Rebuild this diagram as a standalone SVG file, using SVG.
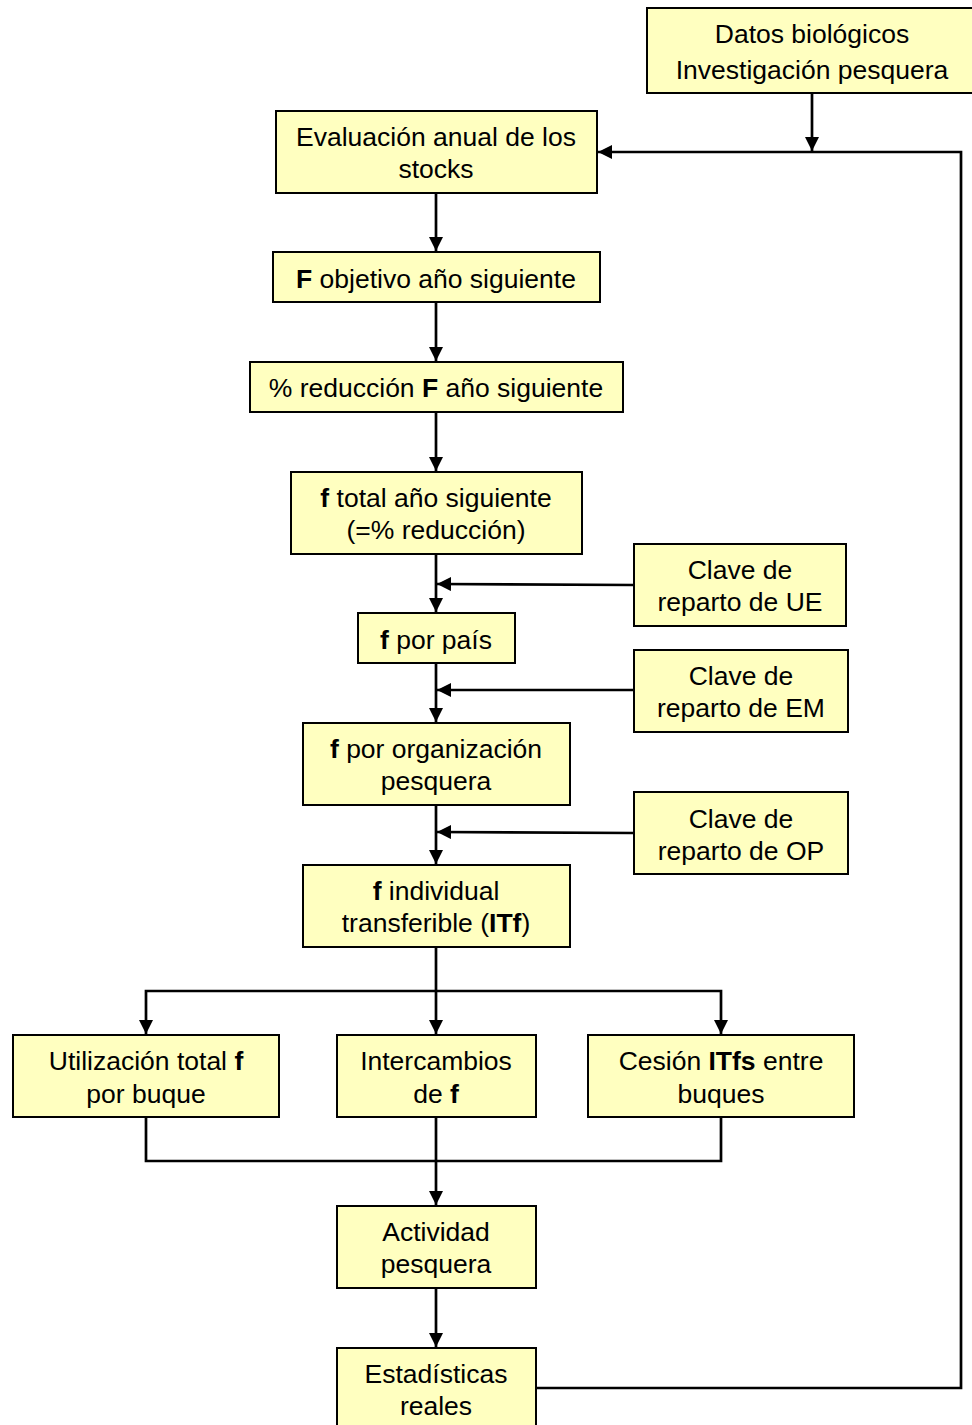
<svg xmlns="http://www.w3.org/2000/svg" width="972" height="1425" viewBox="0 0 972 1425">
<style>
.box{fill:#FFFFC0;stroke:#000;stroke-width:2}
.t{font-family:"Liberation Sans",Arial,sans-serif;font-size:26.5px;fill:#000;text-anchor:middle}
.b{font-weight:bold}
.c{fill:none;stroke:#000;stroke-width:2.7}
</style>
<defs>
<marker id="ah" markerUnits="userSpaceOnUse" markerWidth="14" markerHeight="14" viewBox="0 0 14 14" refX="14" refY="7" orient="auto">
<path d="M0,0 L14,7 L0,14 Z" fill="#000"/>
</marker>
</defs>
<rect width="972" height="1425" fill="#fff"/>
<g id="connectors">
<path class="c" d="M812,93 V151" marker-end="url(#ah)"/>
<path class="c" d="M537,1388 H961 V152 H598" marker-end="url(#ah)"/>
<path class="c" d="M436,193 V251" marker-end="url(#ah)"/>
<path class="c" d="M436,302 V361" marker-end="url(#ah)"/>
<path class="c" d="M436,412 V471" marker-end="url(#ah)"/>
<path class="c" d="M436,554 V612" marker-end="url(#ah)"/>
<path class="c" d="M634,585 L437,584" marker-end="url(#ah)"/>
<path class="c" d="M436,663 V722" marker-end="url(#ah)"/>
<path class="c" d="M634,690 H437" marker-end="url(#ah)"/>
<path class="c" d="M436,805 V864" marker-end="url(#ah)"/>
<path class="c" d="M634,833 L437,832" marker-end="url(#ah)"/>
<path class="c" d="M436,947 V1034" marker-end="url(#ah)"/>
<path class="c" d="M436,991 H146 V1034" marker-end="url(#ah)"/>
<path class="c" d="M436,991 H721 V1034" marker-end="url(#ah)"/>
<path class="c" d="M146,1117 V1161 H721 V1117"/>
<path class="c" d="M436,1117 V1205" marker-end="url(#ah)"/>
<path class="c" d="M436,1288 V1347" marker-end="url(#ah)"/>
</g>
<g id="n-datos">
<rect class="box" x="647" y="8" width="330" height="85"/>
<text class="t" x="812" y="43">Datos biológicos</text>
<text class="t" x="812" y="79">Investigación pesquera</text>
</g>
<g id="n-evaluacion">
<rect class="box" x="276" y="111" width="321" height="82"/>
<text class="t" x="436" y="146">Evaluación anual de los</text>
<text class="t" x="436" y="178">stocks</text>
</g>
<g id="n-fobjetivo">
<rect class="box" x="273" y="252" width="327" height="50"/>
<text class="t" x="436" y="288"><tspan class="b">F</tspan> objetivo año siguiente</text>
</g>
<g id="n-reduccion">
<rect class="box" x="250" y="362" width="373" height="50"/>
<text class="t" x="436" y="397">% reducción <tspan class="b">F</tspan> año siguiente</text>
</g>
<g id="n-ftotal">
<rect class="box" x="291" y="472" width="291" height="82"/>
<text class="t" x="436" y="507"><tspan class="b">f</tspan> total año siguiente</text>
<text class="t" x="436" y="539">(=% reducción)</text>
</g>
<g id="n-clave-ue">
<rect class="box" x="634" y="544" width="212" height="82"/>
<text class="t" x="740" y="579">Clave de</text>
<text class="t" x="740" y="611">reparto de UE</text>
</g>
<g id="n-fpais">
<rect class="box" x="358" y="613" width="157" height="50"/>
<text class="t" x="436" y="649"><tspan class="b">f</tspan> por país</text>
</g>
<g id="n-clave-em">
<rect class="box" x="634" y="650" width="214" height="82"/>
<text class="t" x="741" y="685">Clave de</text>
<text class="t" x="741" y="717">reparto de EM</text>
</g>
<g id="n-forg">
<rect class="box" x="303" y="723" width="267" height="82"/>
<text class="t" x="436" y="758"><tspan class="b">f</tspan> por organización</text>
<text class="t" x="436" y="790">pesquera</text>
</g>
<g id="n-clave-op">
<rect class="box" x="634" y="792" width="214" height="82"/>
<text class="t" x="741" y="828">Clave de</text>
<text class="t" x="741" y="860">reparto de OP</text>
</g>
<g id="n-itf">
<rect class="box" x="303" y="865" width="267" height="82"/>
<text class="t" x="436" y="900"><tspan class="b">f</tspan> individual</text>
<text class="t" x="436" y="932">transferible (<tspan class="b">ITf</tspan>)</text>
</g>
<g id="n-utilizacion">
<rect class="box" x="13" y="1035" width="266" height="82"/>
<text class="t" x="146" y="1070">Utilización total <tspan class="b">f</tspan></text>
<text class="t" x="146" y="1103">por buque</text>
</g>
<g id="n-intercambios">
<rect class="box" x="337" y="1035" width="199" height="82"/>
<text class="t" x="436" y="1070">Intercambios</text>
<text class="t" x="436" y="1103">de <tspan class="b">f</tspan></text>
</g>
<g id="n-cesion">
<rect class="box" x="588" y="1035" width="266" height="82"/>
<text class="t" x="721" y="1070">Cesión <tspan class="b">ITfs</tspan> entre</text>
<text class="t" x="721" y="1103">buques</text>
</g>
<g id="n-actividad">
<rect class="box" x="337" y="1206" width="199" height="82"/>
<text class="t" x="436" y="1241">Actividad</text>
<text class="t" x="436" y="1273">pesquera</text>
</g>
<g id="n-estadisticas">
<rect class="box" x="337" y="1348" width="199" height="90"/>
<text class="t" x="436" y="1383">Estadísticas</text>
<text class="t" x="436" y="1415">reales</text>
</g>
</svg>
